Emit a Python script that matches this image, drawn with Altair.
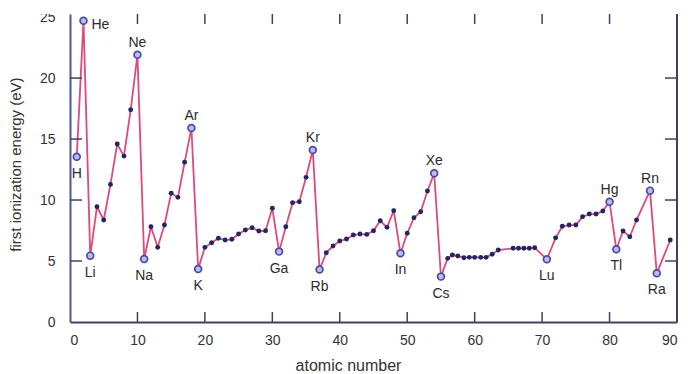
import altair as alt
import pandas as pd

# ---- data ----
atomic_number = [1, 2, 3, 4, 5, 6, 7, 8, 9, 10,
                 11, 12, 13, 14, 15, 16, 17, 18, 19, 20,
                 21, 22, 23, 24, 25, 26, 27, 28, 29, 30,
                 31, 32, 33, 34, 35, 36, 37, 38, 39, 40,
                 41, 42, 43, 44, 45, 46, 47, 48, 49, 50,
                 51, 52, 53, 54, 55,
                 56, 56.7, 57.5, 58.4, 59.2, 60.0, 60.9, 61.7, 62.6, 63.5,
                 65.7, 66.5, 67.3, 68.1, 68.9, 70.7,
                 72, 73, 74, 75, 76, 77, 78, 79, 80,
                 81, 82, 83, 84, 86, 87, 89]
energy = [13.55, 24.7, 5.44, 9.45, 8.36, 11.28, 14.59, 13.6, 17.4, 21.9,
          5.16, 7.81, 6.12, 7.95, 10.55, 10.22, 13.1, 15.9, 4.35, 6.12,
          6.5, 6.86, 6.72, 6.78, 7.21, 7.54, 7.73, 7.46, 7.48, 9.32,
          5.77, 7.81, 9.78, 9.86, 11.86, 14.1, 4.3, 5.68, 6.23, 6.64,
          6.8, 7.13, 7.21, 7.18, 7.48, 8.3, 7.76, 9.13, 5.63, 7.27,
          8.55, 9.04, 10.74, 12.19, 3.72,
          5.22, 5.49, 5.41, 5.27, 5.3, 5.3, 5.3, 5.3, 5.55, 5.9,
          6.04, 6.04, 6.04, 6.04, 6.09, 5.14,
          6.9, 7.85, 7.95, 7.95, 8.63, 8.85, 8.85, 9.1, 9.86,
          5.96, 7.46, 6.99, 8.36, 10.77, 3.99, 6.72]
symbol = ["H", "He", "Li", "", "", "", "", "", "", "Ne",
          "Na", "", "", "", "", "", "", "Ar", "K", "",
          "", "", "", "", "", "", "", "", "", "",
          "Ga", "", "", "", "", "Kr", "Rb", "", "", "",
          "", "", "", "", "", "", "", "", "In", "",
          "", "", "", "Xe", "Cs",
          "", "", "", "", "", "", "", "", "", "",
          "", "", "", "", "", "Lu",
          "", "", "", "", "", "", "", "", "Hg",
          "Tl", "", "", "", "Rn", "Ra", ""]

labels_above = ["Ne", "Ar", "Kr", "Xe", "Hg", "Rn"]
labels_below = ["H", "Li", "Na", "K", "Ga", "Rb", "In", "Cs", "Lu", "Tl", "Ra"]
labels_right = ["He"]

x_tick_values = [0, 10, 20, 30, 40, 50, 60, 70, 80, 90]
y_tick_values = [0, 5, 10, 15, 20, 25]
x_inner_ticks = [10, 20, 30, 40, 50, 60, 70, 80]
y_inner_ticks = [5, 10, 15, 20]

df = pd.DataFrame({"Z": atomic_number, "E": energy, "sym": symbol})
df["labeled"] = df["sym"].str.len() > 0
xt = pd.DataFrame({"Z": x_inner_ticks})
yt = pd.DataFrame({"E": y_inner_ticks})

W, H = 607, 308
FONT = "Liberation Sans"
AXIS_COL = "#3c4263"
LEFT_COL = "#4a58a0"
PINK = "#dc4a7e"
NAVY = "#23255f"

xs = alt.Scale(domain=[0, 90], nice=False, zero=False)
ys = alt.Scale(domain=[0, 25.25], nice=False, zero=False)

x_axis = alt.Axis(values=x_tick_values, ticks=False, grid=False,
                  domainColor=AXIS_COL, domainWidth=2,
                  labelFont=FONT, labelFontSize=14, labelColor="#333333",
                  labelPadding=11, title="atomic number",
                  titleFont=FONT, titleFontSize=16, titleFontWeight="normal",
                  titleColor="#333333", titleX=278, titleY=48,
                  titleBaseline="alphabetic")
y_axis = alt.Axis(values=y_tick_values, ticks=False, grid=False,
                  domainColor=LEFT_COL, domainWidth=2,
                  labelFont=FONT, labelFontSize=14, labelColor="#333333",
                  labelPadding=15, title="first ionization energy (eV)",
                  titleFont=FONT, titleFontSize=15, titleFontWeight="normal",
                  titleColor="#333333", titleX=-50, titleY=150,
                  titleBaseline="alphabetic", titleAngle=270)

X = alt.X("Z:Q", scale=xs, axis=x_axis)
Y = alt.Y("E:Q", scale=ys, axis=y_axis)

base = alt.Chart(df)

line = base.mark_line(color=PINK, strokeWidth=1.8).encode(x=X, y=Y)

small = base.transform_filter("!datum.labeled").mark_circle(
    size=24, color=NAVY, opacity=1
).encode(x=X, y=Y)

big = base.transform_filter("datum.labeled").mark_circle(
    size=46, fill="#bcbcec", stroke="#4a4aa6", strokeWidth=1.7, opacity=1
).encode(x=X, y=Y)


def label_layer(names, **kw):
    return base.transform_filter(
        alt.FieldOneOfPredicate(field="sym", oneOf=names)
    ).mark_text(font=FONT, fontSize=14, color="#2b2b2b", **kw).encode(
        x=X, y=Y, text="sym:N"
    )


above = label_layer(labels_above, dy=-12, baseline="middle", align="center")
below = label_layer(labels_below, dy=17, baseline="middle", align="center")
right = label_layer(labels_right, dx=8, dy=4, baseline="middle", align="left")

bottom_ticks = alt.Chart(xt).mark_rule(color=AXIS_COL, strokeWidth=1.5).encode(
    x=X, y=alt.value(H), y2=alt.value(H - 10))
top_ticks = alt.Chart(xt).mark_rule(color=AXIS_COL, strokeWidth=1.5).encode(
    x=X, y=alt.value(0), y2=alt.value(10))
left_ticks = alt.Chart(yt).mark_rule(color=AXIS_COL, strokeWidth=1.5).encode(
    y=Y, x=alt.value(0), x2=alt.value(12))
right_ticks = alt.Chart(yt).mark_rule(color=AXIS_COL, strokeWidth=1.5).encode(
    y=Y, x=alt.value(W), x2=alt.value(W - 12))
right_line = alt.Chart(yt).mark_rule(color=AXIS_COL, strokeWidth=2).encode(
    x=alt.value(W), y=alt.value(0), y2=alt.value(H))

# white band above the plot (reference image is cropped there)
top_band = alt.Chart(yt).mark_rect(color="white", opacity=1).encode(
    x=alt.value(-75), x2=alt.value(W + 10), y=alt.value(-20), y2=alt.value(0))

chart = alt.layer(
    line, bottom_ticks, top_ticks, left_ticks, right_ticks, right_line,
    small, big, above, below, right, top_band
).properties(
    width=W, height=H,
    autosize=alt.AutoSizeParams(type="none"),
    padding={"left": 62, "top": 6, "right": 3, "bottom": 52},
    background="white",
).configure_view(stroke=None)

chart.save("out.html", embed_options={"renderer": "svg", "actions": False})
